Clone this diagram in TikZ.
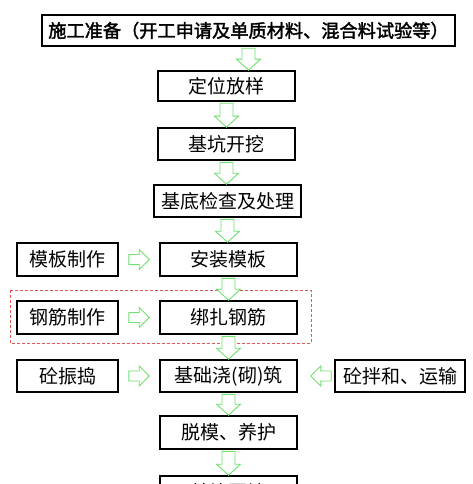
\documentclass[tikz,border=0pt]{standalone}
\usepackage{fontspec}
\newfontfamily\cjk[AutoFakeBold=2]{Noto Sans CJK SC}
\usetikzlibrary{calc}
\definecolor{arrgreen}{RGB}{110,225,110}
\definecolor{dashred}{RGB}{220,90,90}
\tikzset{
  box/.style={draw, line width=1.6pt, inner sep=0pt, font=\cjk\fontsize{19}{19}\selectfont},
  arr/.style={draw=arrgreen, line width=0.9pt, fill=white},
}
\newcommand{\dnarr}[2]{%
  \draw[arr] let \p1=(#1.south), \p2=(#2.north) in
    (\x1-6.5pt,\y1-1.5pt) -- (\x1-6.5pt,\y2+11pt) -- (\x1-12pt,\y2+11pt) -- (\x1,\y2) --
    (\x1+12pt,\y2+11pt) -- (\x1+6.5pt,\y2+11pt) -- (\x1+6.5pt,\y1-1.5pt) -- cycle;}
\newcommand{\rtarr}[4]{% from, to, gap left, gap right
  \draw[arr] let \p1=(#1.east), \p2=(#2.west) in
    (\x1+#3,\y1+5pt) -- (\x2-#4-10pt,\y1+5pt) -- (\x2-#4-10pt,\y1+10pt) -- (\x2-#4,\y1) --
    (\x2-#4-10pt,\y1-10pt) -- (\x2-#4-10pt,\y1-5pt) -- (\x1+#3,\y1-5pt) -- cycle;}
\newcommand{\ltarr}[4]{% from (right box), to (left box), gap at from, gap at to
  \draw[arr] let \p1=(#1.west), \p2=(#2.east) in
    (\x1-#3,\y1+5pt) -- (\x2+#4+10pt,\y1+5pt) -- (\x2+#4+10pt,\y1+10pt) -- (\x2+#4,\y1) --
    (\x2+#4+10pt,\y1-10pt) -- (\x2+#4+10pt,\y1-5pt) -- (\x1-#3,\y1-5pt) -- cycle;}
\begin{document}
\begin{tikzpicture}[x=1pt,y=-1pt]
\useasboundingbox (0,0) rectangle (472,484);
\clip (0,0) rectangle (472,484);
% red dashed group
\draw[dashred, line width=0.7pt, dash pattern=on 3pt off 2pt] (10,290) rectangle (311,343);
% main column
\node[box, minimum width=413pt, minimum height=31pt, font=\cjk\bfseries\fontsize{18.2}{18.2}\selectfont] (prep) at (248.5,30.5) {施工准备（开工申请及单质材料、混合料试验等）};
\node[box, minimum width=137pt, minimum height=30pt] (dw) at (226.5,86) {定位放样};
\node[box, minimum width=137pt, minimum height=32pt] (kw) at (226.5,144) {基坑开挖};
\node[box, minimum width=147pt, minimum height=32pt] (jd) at (227.5,201) {基底检查及处理};
\node[box, minimum width=137pt, minimum height=33pt] (az) at (228.5,259.5) {安装模板};
\node[box, minimum width=137pt, minimum height=33pt] (bz) at (228.5,317.5) {绑扎钢筋};
\node[box, minimum width=137pt, minimum height=32pt] (jc) at (228.5,376) {基础浇(砌)筑};
\node[box, minimum width=137pt, minimum height=33pt] (tm) at (228.5,432.5) {脱模、养护};
\node[box, minimum width=137pt, minimum height=33pt] (ht) at (228.5,492.5) {基坑回填};
% side boxes
\node[box, minimum width=101pt, minimum height=33pt] (mb) at (67.5,259.5) {模板制作};
\node[box, minimum width=101pt, minimum height=33pt] (gj) at (67.5,317.5) {钢筋制作};
\node[box, minimum width=101pt, minimum height=32pt] (zd) at (67.5,376) {砼振捣};
\node[box, minimum width=130pt, minimum height=32pt] (bh) at (400,376) {砼拌和、运输};
% down arrows
\dnarr{prep}{dw}
\dnarr{dw}{kw}
\dnarr{kw}{jd}
\dnarr{jd}{az}
\dnarr{az}{bz}
\dnarr{bz}{jc}
\dnarr{jc}{tm}
\dnarr{tm}{ht}
% side arrows
\rtarr{mb}{az}{10pt}{10pt}
\rtarr{gj}{bz}{10pt}{10pt}
\rtarr{zd}{jc}{10pt}{10pt}
\ltarr{bh}{jc}{3pt}{13pt}
\end{tikzpicture}
\end{document}
